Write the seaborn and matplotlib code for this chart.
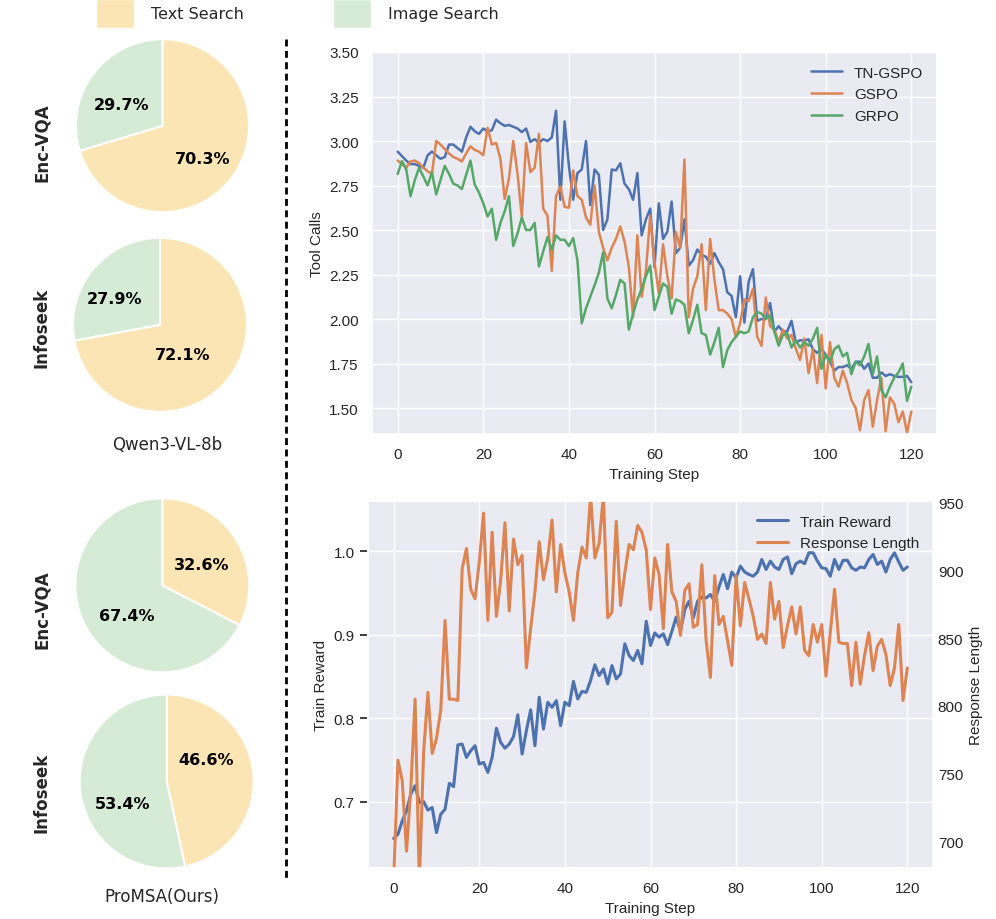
import matplotlib
matplotlib.use('Agg')
import matplotlib.pyplot as plt
from matplotlib.patches import Patch
from matplotlib.lines import Line2D
import numpy as np
import pandas as pd
import seaborn as sns

# ---- data ----
steps = list(range(121))

tn_gspo = [2.94, 2.915, 2.89, 2.87, 2.87, 2.86, 2.85, 2.92, 2.94, 2.92,
           2.90, 2.91, 2.98, 2.98, 2.96, 2.94, 3.02, 3.08, 3.055, 3.04,
           3.07, 3.055, 3.06, 3.12, 3.10, 3.085, 3.09, 3.08, 3.07, 3.05,
           3.07, 2.995, 3.01, 2.99, 3.01, 3.00, 3.02, 3.17, 2.67, 3.11,
           2.86, 2.67, 2.82, 2.84, 3.00, 2.64, 2.84, 2.81, 2.50, 2.56,
           2.84, 2.835, 2.875, 2.76, 2.73, 2.67, 2.82, 2.47, 2.56, 2.62,
           2.29, 2.65, 2.45, 2.49, 2.66, 2.37, 2.40, 2.56, 2.30, 2.33,
           2.39, 2.36, 2.35, 2.31, 2.37, 2.32, 2.28, 2.15, 2.13, 2.01,
           2.24, 1.98, 2.21, 2.28, 1.99, 2.00, 2.00, 2.09, 1.93, 1.96,
           1.93, 1.93, 1.99, 1.87, 1.88, 1.88, 1.885, 1.83, 1.81, 1.83,
           1.80, 1.76, 1.71, 1.73, 1.73, 1.74, 1.72, 1.76, 1.76, 1.72,
           1.75, 1.67, 1.67, 1.70, 1.68, 1.69, 1.68, 1.675, 1.675, 1.68,
           1.645]

gspo = [2.89, 2.87, 2.85, 2.885, 2.89, 2.875, 2.85, 2.83, 2.815, 3.00,
        2.98, 2.955, 2.93, 2.91, 2.90, 2.885, 2.93, 2.97, 2.95, 2.94,
        2.92, 3.074, 2.98, 2.99, 2.90, 2.675, 2.79, 3.00, 2.815, 2.576,
        2.99, 2.825, 2.85, 3.04, 2.62, 2.58, 2.27, 2.69, 2.745, 2.63,
        2.625, 2.835, 2.69, 2.67, 2.57, 2.53, 2.75, 2.49, 2.40, 2.33,
        2.40, 2.45, 2.52, 2.435, 2.295, 2.01, 2.47, 2.125, 2.27, 2.58,
        2.32, 2.145, 2.42, 2.24, 2.115, 2.49, 2.40, 2.895, 2.01, 2.17,
        2.24, 2.42, 2.05, 2.45, 2.22, 2.05, 2.05, 2.03, 2.00, 1.90,
        1.975, 2.11, 2.10, 2.17, 1.90, 1.85, 2.12, 1.96, 1.94, 1.87,
        1.94, 1.89, 1.91, 1.835, 1.77, 1.89, 1.695, 1.83, 1.64, 1.91,
        1.61, 1.87, 1.67, 1.62, 1.71, 1.64, 1.545, 1.50, 1.375, 1.545,
        1.60, 1.395, 1.545, 1.67, 1.37, 1.56, 1.525, 1.42, 1.48, 1.36,
        1.48]

grpo = [2.815, 2.887, 2.84, 2.69, 2.78, 2.85, 2.80, 2.75, 2.825, 2.70,
        2.78, 2.86, 2.815, 2.76, 2.75, 2.73, 2.81, 2.89, 2.755, 2.71,
        2.65, 2.576, 2.62, 2.445, 2.54, 2.605, 2.69, 2.41, 2.48, 2.57,
        2.50, 2.50, 2.54, 2.295, 2.38, 2.46, 2.39, 2.47, 2.445, 2.445,
        2.41, 2.455, 2.33, 1.976, 2.06, 2.125, 2.19, 2.26, 2.375, 2.115,
        2.06, 2.135, 2.22, 2.20, 1.94, 2.03, 2.11, 2.17, 2.24, 2.30,
        2.05, 2.125, 2.20, 2.18, 2.03, 2.11, 2.10, 2.08, 1.92, 1.995,
        2.08, 1.92, 1.91, 1.80, 1.87, 1.95, 1.73, 1.825, 1.87, 1.90,
        1.93, 1.92, 1.93, 2.01, 2.04, 2.03, 2.00, 2.02, 1.93, 1.85,
        1.91, 1.92, 1.84, 1.88, 1.84, 1.87, 1.85, 1.89, 1.95, 1.72,
        1.80, 1.76, 1.83, 1.85, 1.79, 1.81, 1.69, 1.76, 1.74, 1.79,
        1.86, 1.69, 1.79, 1.60, 1.56, 1.62, 1.67, 1.70, 1.75, 1.54,
        1.62]

train_reward = [0.656, 0.661, 0.677, 0.689, 0.709, 0.719, 0.699, 0.700, 0.690, 0.693,
                0.663, 0.685, 0.691, 0.722, 0.718, 0.768, 0.769, 0.753, 0.761, 0.767,
                0.745, 0.747, 0.735, 0.753, 0.788, 0.771, 0.764, 0.769, 0.778, 0.804,
                0.757, 0.785, 0.810, 0.767, 0.825, 0.787, 0.819, 0.813, 0.821, 0.791,
                0.819, 0.815, 0.844, 0.823, 0.832, 0.831, 0.845, 0.864, 0.851, 0.859,
                0.841, 0.863, 0.847, 0.853, 0.889, 0.875, 0.869, 0.881, 0.865, 0.916,
                0.887, 0.902, 0.897, 0.901, 0.888, 0.904, 0.921, 0.904, 0.930, 0.940,
                0.920, 0.940, 0.945, 0.944, 0.948, 0.940, 0.957, 0.972, 0.955, 0.975,
                0.968, 0.982, 0.975, 0.972, 0.970, 0.975, 0.990, 0.978, 0.988, 0.981,
                0.978, 0.990, 0.993, 0.973, 0.985, 0.988, 0.985, 0.998, 0.998, 0.988,
                0.980, 0.979, 0.970, 0.990, 0.978, 0.989, 0.989, 0.980, 0.977, 0.981,
                0.980, 0.990, 0.996, 0.984, 0.988, 0.975, 0.990, 0.998, 0.987, 0.977,
                0.981]

response_length = [672, 760, 745, 693, 739, 805, 670, 766, 810, 765,
                   776, 797, 863, 805, 805, 804, 901, 916, 886, 879,
                   906, 942, 863, 928, 866, 893, 935, 870, 923, 904,
                   911, 828, 857, 884, 921, 893, 909, 937, 884, 919,
                   898, 884, 863, 898, 917, 909, 955, 909, 920, 955,
                   865, 869, 936, 874, 898, 919, 915, 933, 928, 915,
                   871, 909, 897, 857, 919, 884, 877, 852, 885, 890,
                   858, 860, 904, 848, 821, 896, 860, 866, 848, 830,
                   896, 859, 891, 879, 866, 849, 853, 846, 891, 864,
                   877, 843, 859, 873, 853, 873, 841, 837, 860, 847,
                   860, 822, 854, 886, 847, 846, 846, 815, 847, 816,
                   837, 854, 826, 844, 849, 838, 815, 828, 860, 804,
                   828]

pie_models = ['Qwen3-VL-8b', 'ProMSA(Ours)']
pie_datasets = ['Enc-VQA', 'Infoseek', 'Enc-VQA', 'Infoseek']
text_search = [70.3, 72.1, 32.6, 46.6]
image_search = [29.7, 27.9, 67.4, 53.4]

# ---- style ----
sns.set_theme(style='darkgrid')
plt.rcParams['font.family'] = ['Liberation Sans', 'DejaVu Sans']
plt.rcParams.update({'axes.labelsize': 11, 'xtick.labelsize': 11,
                     'ytick.labelsize': 11, 'legend.fontsize': 11})

blue, orange, green = '#4C72B0', '#DD8452', '#55A868'
yellow_pie, green_pie = '#FCE5B5', '#D5EBD6'
hand = ['DejaVu Sans']

W, H = 996, 920
fig = plt.figure(figsize=(W / 100, H / 100), dpi=100)

# ---- pies ----
pie_centers = [(162.5, 126.7, 86.5), (160, 325.8, 87), (162.3, 586.3, 87), (166.7, 782.5, 87)]
label_offsets = [[(0.46, -0.38), (-0.47, 0.24)],
                 [(0.26, -0.34), (-0.52, 0.30)],
                 [(0.45, 0.24), (-0.41, -0.35)],
                 [(0.45, 0.25), (-0.51, -0.25)]]
for i, (cx, cy, r) in enumerate(pie_centers):
    ax = fig.add_axes([(cx - 1.02 * r) / W, 1 - (cy + 1.02 * r) / H, 2.04 * r / W, 2.04 * r / H])
    wedges, texts, autotexts = ax.pie([text_search[i], image_search[i]],
                                      colors=[yellow_pie, green_pie], startangle=90,
                                      counterclock=False, autopct='%1.1f%%',
                                      wedgeprops=dict(edgecolor='white', linewidth=1.5),
                                      textprops=dict(family=hand, fontsize=11.5,
                                                     fontweight='bold', color='black'))
    for t, pos in zip(autotexts, label_offsets[i]):
        t.set_position(pos)
    ax.set_xlim(-1.02, 1.02)
    ax.set_ylim(-1.02, 1.02)
    fig.text(42 / W, 1 - [143, 328, 610, 793][i] / H, pie_datasets[i], rotation=90,
             ha='center', va='center', family=hand, fontsize=12, fontweight='bold')

fig.text(166.7 / W, 1 - 445 / H, pie_models[0], ha='center', va='center', family=hand, fontsize=12)
fig.text(161.7 / W, 1 - 896.7 / H, pie_models[1], ha='center', va='center', family=hand, fontsize=12)

fig.legend(handles=[Patch(facecolor=yellow_pie, label='Text Search'),
                    Patch(facecolor=green_pie, label='Image Search')],
           loc='upper left', bbox_to_anchor=(95.7 / W, 1.0), ncol=2, frameon=False,
           handlelength=2.4, handleheight=2.4, handletextpad=1.05, columnspacing=5.6,
           borderpad=0, borderaxespad=0, prop=dict(family=hand, size=11.5))

fig.add_artist(Line2D([286 / W, 286 / W], [1 - 40 / H, 1 - 880 / H], transform=fig.transFigure,
                      color='black', linewidth=2, linestyle=(0, (2.5, 1.6))))

# ---- tool calls ----
top_df = pd.DataFrame({'Training Step': steps * 3,
                       'Tool Calls': tn_gspo + gspo + grpo,
                       'method': ['TN-GSPO'] * 121 + ['GSPO'] * 121 + ['GRPO'] * 121})
ax1 = fig.add_axes([372 / W, 1 - 435 / H, 565 / W, 382 / H])
sns.lineplot(data=top_df, x='Training Step', y='Tool Calls', hue='method',
             palette=[blue, orange, green], linewidth=1.8, ax=ax1)
ax1.set_xlim(-6, 126)
ax1.set_ylim(1.354, 3.5)
ax1.set_xticks([0, 20, 40, 60, 80, 100, 120])
ax1.set_yticks([1.5, 1.75, 2.0, 2.25, 2.5, 2.75, 3.0, 3.25, 3.5])
ax1.yaxis.set_major_formatter('{x:.2f}')
ax1.legend(frameon=False, loc='upper right', title=None)

# ---- train reward / response length ----
ax3 = fig.add_axes([368 / W, 1 - 869 / H, 565 / W, 367 / H])
sns.lineplot(x=steps, y=train_reward, color=blue, linewidth=2.2, ax=ax3,
             label='Train Reward', legend=False)
ax4 = ax3.twinx()
sns.lineplot(x=steps, y=response_length, color=orange, linewidth=2.2, ax=ax4,
             label='Response Length', legend=False)
ax3.set_xlim(-6, 126)
ax3.set_ylim(0.6206, 1.060)
ax3.set_xticks([0, 20, 40, 60, 80, 100, 120])
ax3.set_yticks([0.7, 0.8, 0.9, 1.0])
ax4.set_ylim(680.6, 951)
ax4.set_yticks([700, 750, 800, 850, 900, 950])
ax4.grid(False)
ax4.tick_params(axis='y', length=0)
ax3.set_xlabel('Training Step')
ax3.set_ylabel('Train Reward')
ax4.set_ylabel('Response Length')
h1, l1 = ax3.get_legend_handles_labels()
h2, l2 = ax4.get_legend_handles_labels()
ax4.legend(h1 + h2, l1 + l2, frameon=False, loc='upper right')

fig.savefig('out.png', dpi=100)
